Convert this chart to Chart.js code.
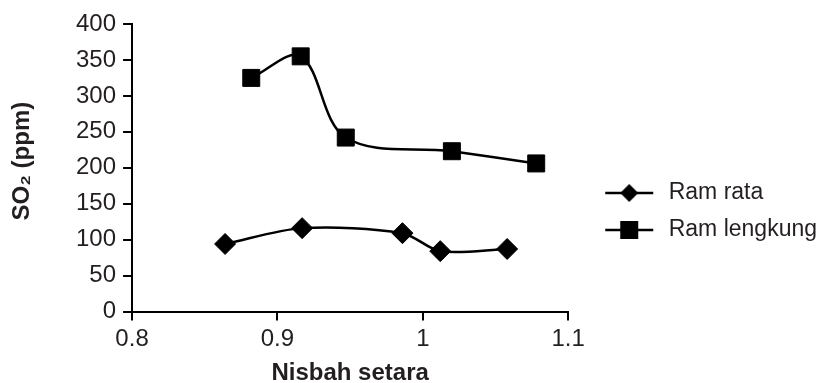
<!DOCTYPE html>
<html>
<head>
<meta charset="utf-8">
<script src="https://cdn.jsdelivr.net/npm/chart.js@4/dist/chart.umd.min.js"></script>
<style>
  html, body { margin: 0; padding: 0; background: #fff; }
  #wrap { width: 827px; height: 383px; }
</style>
</head>
<body>
<div id="wrap"><canvas id="my-chart" width="827" height="383"></canvas></div>
<script>
// series
const seriesNames = ['Ram rata', 'Ram lengkung'];
const ramRataX = [0.864, 0.917, 0.986, 1.012, 1.058];
const ramRataY = [94, 116, 109, 84, 87];
const ramLengkungX = [0.882, 0.916, 0.947, 1.020, 1.078];
const ramLengkungY = [325, 355, 242, 223, 206];
const xTickLabels = ['0.8', '0.9', '1', '1.1'];
const yTickLabels = ['0', '50', '100', '150', '200', '250', '300', '350', '400'];

const textColor = '#231f20';
const fontFamily = "'Liberation Sans', Arial, sans-serif";

function toPoints(xs, ys) {
    return xs.map((x, i) => ({ x: x, y: ys[i] }));
}

// little line + marker picture used as the legend symbol
function legendSymbol(style) {
    const c = document.createElement('canvas');
    c.width = 75;
    c.height = 24;
    const g = c.getContext('2d');
    g.strokeStyle = '#000';
    g.fillStyle = '#000';
    g.lineWidth = 2.5;
    g.beginPath();
    g.moveTo(23, 12);
    g.lineTo(71, 12);
    g.stroke();
    g.beginPath();
    if (style === 'rectRot') {
        g.moveTo(47 - 9, 12);
        g.lineTo(47, 12 - 9);
        g.lineTo(47 + 9, 12);
        g.lineTo(47, 12 + 9);
        g.closePath();
    } else {
        g.rect(47 - 9, 12 - 9, 18, 18);
    }
    g.fill();
    return c;
}

const ctx = document.getElementById('my-chart').getContext('2d');
const myChart = new Chart(ctx, {
    type: 'line',
    data: {
        datasets: [{
            label: seriesNames[0],
            data: toPoints(ramRataX, ramRataY),
            borderColor: '#000',
            backgroundColor: '#000',
            borderWidth: 2.5,
            tension: 0.3,
            pointStyle: 'rectRot',
            pointRadius: 10.5,
            pointBorderWidth: 1,
            pointBackgroundColor: '#000',
            pointBorderColor: '#000',
            fill: false
        }, {
            label: seriesNames[1],
            data: toPoints(ramLengkungX, ramLengkungY),
            borderColor: '#000',
            backgroundColor: '#000',
            borderWidth: 2.5,
            tension: 0.35,
            pointStyle: 'rect',
            pointRadius: 12,
            pointBorderWidth: 1,
            pointBackgroundColor: '#000',
            pointBorderColor: '#000',
            fill: false
        }]
    },
    options: {
        responsive: false,
        animation: false,
        clip: false,
        layout: { padding: { top: 24, right: 0, bottom: 0, left: 0 } },
        plugins: {
            tooltip: { enabled: false },
            legend: {
                position: 'right',
                align: 'center',
                maxWidth: 259,
                title: { display: true, text: '', font: { size: 1, lineHeight: 1 }, padding: { top: 15, bottom: 0 } },
                labels: {
                    usePointStyle: true,
                    pointStyleWidth: 75,
                    padding: 14,
                    color: textColor,
                    font: { family: fontFamily, size: 23, lineHeight: 1.2 },
                    generateLabels: (chart) => {
                        const items = Chart.defaults.plugins.legend.labels.generateLabels(chart);
                        items.forEach((item) => {
                            const style = chart.data.datasets[item.datasetIndex].pointStyle;
                            item.pointStyle = legendSymbol(style);
                        });
                        return items;
                    }
                }
            }
        },
        scales: {
            x: {
                type: 'linear',
                min: 0.8,
                max: 1.1,
                border: { color: '#000', width: 2 },
                grid: { drawOnChartArea: false, drawTicks: true, tickLength: 9, color: '#000', lineWidth: 2 },
                ticks: {
                    stepSize: 0.1,
                    padding: 7,
                    color: textColor,
                    font: { family: fontFamily, size: 24, lineHeight: 1 },
                    callback: (value, index) => xTickLabels[index]
                },
                title: {
                    display: true,
                    text: 'Nisbah setara',
                    color: textColor,
                    font: { family: fontFamily, size: 24, weight: 'bold', lineHeight: 1 },
                    padding: { top: 2.5, bottom: -2 }
                }
            },
            y: {
                min: 0,
                max: 400,
                border: { color: '#000', width: 2 },
                grid: { drawOnChartArea: false, drawTicks: true, tickLength: 9, color: '#000', lineWidth: 2 },
                ticks: {
                    stepSize: 50,
                    padding: 7,
                    color: textColor,
                    font: { family: fontFamily, size: 24, lineHeight: 1 },
                    callback: (value, index) => yTickLabels[index]
                },
                title: {
                    display: true,
                    text: '  SO₂ (ppm)',
                    color: textColor,
                    font: { family: fontFamily, size: 24, weight: 'bold', lineHeight: 1 },
                    padding: { top: 10, bottom: 35 }
                }
            }
        }
    }
});
</script>
</body>
</html>
